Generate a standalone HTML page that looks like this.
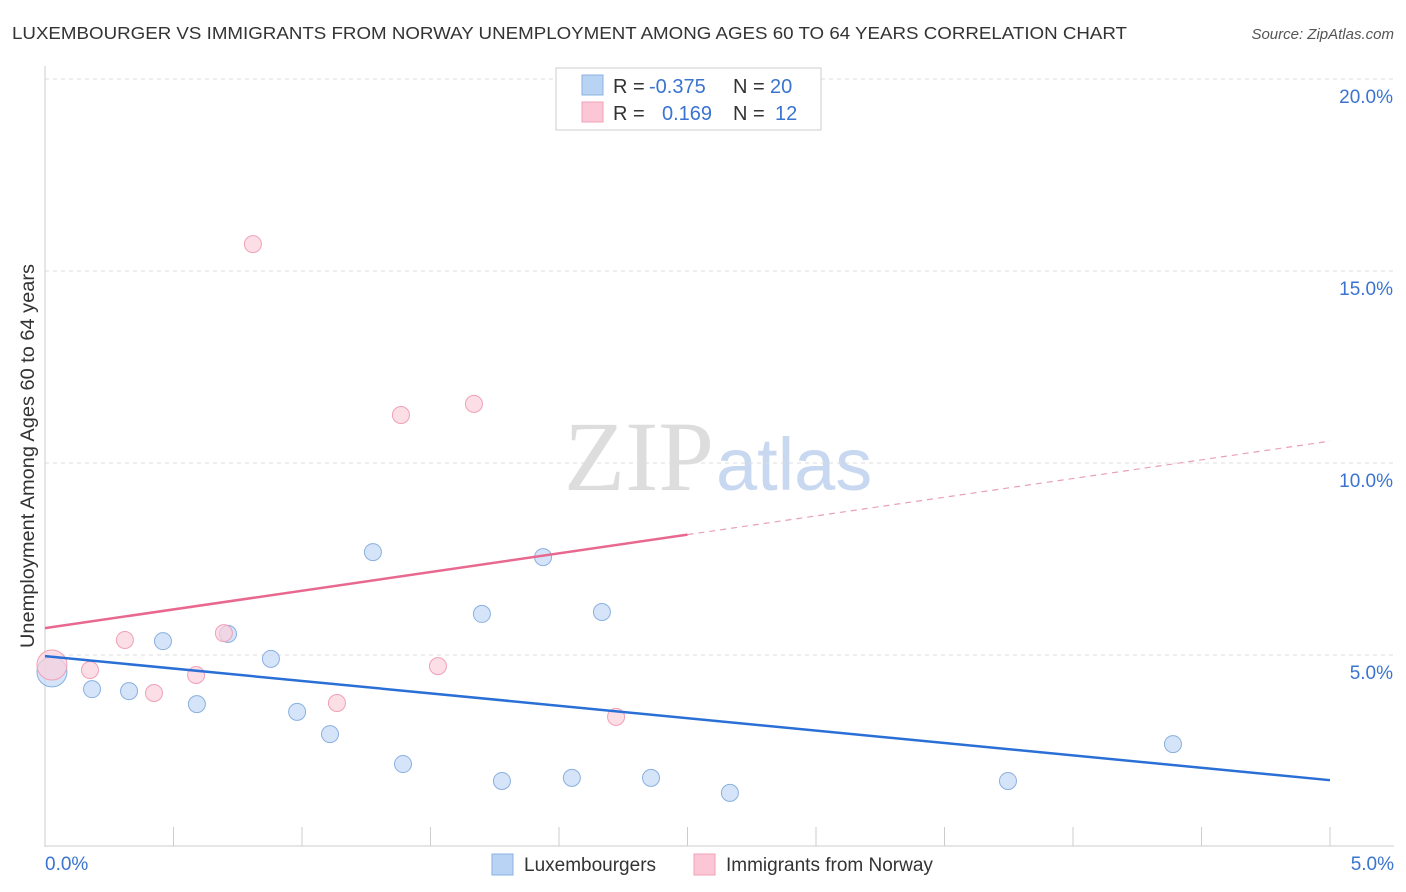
<!DOCTYPE html>
<html><head><meta charset="utf-8"><style>
body{margin:0;background:#fff;font-family:"Liberation Sans",sans-serif;}
svg{display:block}
</style></head><body>
<svg id="chart" width="1406" height="892">
<text x="12" y="39" font-size="17.5" fill="#333" textLength="1115" lengthAdjust="spacingAndGlyphs">LUXEMBOURGER VS IMMIGRANTS FROM NORWAY UNEMPLOYMENT AMONG AGES 60 TO 64 YEARS CORRELATION CHART</text>
<text x="1394" y="39" font-size="15" fill="#555" font-style="italic" text-anchor="end">Source: ZipAtlas.com</text>
<text x="714" y="490" font-size="100" fill="#ddd" text-anchor="end" font-family="Liberation Serif,serif">ZIP</text>
<text x="716" y="490" font-size="74" fill="#c8d8f0">atlas</text>
<text transform="translate(34,456) rotate(-90)" font-size="19" fill="#333" text-anchor="middle" textLength="384" lengthAdjust="spacingAndGlyphs">Unemployment Among Ages 60 to 64 years</text>
<g id="grid"></g><g id="marks"></g>
<g>
<rect x="556" y="68" width="265" height="62" fill="#fff" stroke="#ccc"/>
<rect x="582" y="75" width="21" height="20" fill="#b9d3f5" stroke="#8ab0e0"/>
<rect x="582" y="102" width="21" height="20" fill="#fbc7d6" stroke="#f0a0b8"/>
<text x="613" y="93" font-size="20" fill="#333">R = <tspan x="649" fill="#3a74d0">-0.375</tspan><tspan x="733">N = </tspan><tspan x="770" fill="#3a74d0">20</tspan></text>
<text x="613" y="120" font-size="20" fill="#333">R = <tspan x="662" fill="#3a74d0">0.169</tspan><tspan x="733">N = </tspan><tspan x="775" fill="#3a74d0">12</tspan></text>
</g>
<g>
<rect x="492" y="854" width="21" height="21" fill="#b9d3f5" stroke="#8ab0e0"/>
<text x="524" y="871" font-size="19" fill="#333">Luxembourgers</text>
<rect x="694" y="854" width="21" height="21" fill="#fbc7d6" stroke="#f0a0b8"/>
<text x="726" y="871" font-size="19" fill="#333">Immigrants from Norway</text>
</g>
</svg>
<script>
const blueX=[0.027,0.183,0.327,0.459,0.591,0.712,0.879,0.981,1.109,1.276,1.393,1.70,1.778,1.938,2.05,2.167,2.358,2.665,3.747,4.389];
const blueY=[4.56,4.11,4.06,5.36,3.72,5.55,4.90,3.52,2.94,7.68,2.16,6.07,1.72,7.55,1.80,6.12,1.80,1.41,1.72,2.68];
const pinkX=[0.027,0.175,0.311,0.424,0.588,0.696,0.809,1.136,1.385,1.529,1.669,2.222];
const pinkY=[4.74,4.61,5.39,4.01,4.48,5.57,15.70,3.75,11.25,4.71,11.54,3.39];
const blueLine=[4.97,1.74];
const pinkLine=[5.70,10.57];
const yTicks=[5,10,15,20];
const xTickLabels=["0.0%","5.0%"];
const NS="http://www.w3.org/2000/svg";
const sx=v=>45+v*257, sy=v=>847-v*38.4;
function mk(tag,attrs,parent){const e=document.createElementNS(NS,tag);for(const k in attrs)e.setAttribute(k,attrs[k]);parent.appendChild(e);return e;}
const grid=document.getElementById('grid'), marks=document.getElementById('marks');
yTicks.forEach(t=>{
 let l=mk('line',{x1:45,x2:1394,y1:sy(t),y2:sy(t),stroke:'#ddd','stroke-dasharray':'4,4'},grid);
 
 
 let tx=mk('text',{x:1393,y:sy(t)+24,'font-size':19,fill:'#3a74d0','text-anchor':'end'},grid);
 tx.textContent=t.toFixed(1)+'%';
 
 
});
let ax=mk('line',{x1:45,x2:45,y1:66,y2:847,stroke:'#ccc'},grid);


let bx=mk('line',{x1:45,x2:1394,y1:846,y2:846,stroke:'#ccc'},grid);


for(let i=1;i<=10;i++){let l=mk('line',{x1:sx(i*0.5),x2:sx(i*0.5),y1:827,y2:846,stroke:'#ccc'},grid);
 
 }
[[xTickLabels[0],45,'start'],[xTickLabels[1],1394,'end']].forEach(([s,x,a])=>{
 let t=mk('text',{x:x,y:870,'font-size':19,fill:'#3a74d0','text-anchor':a},grid);t.textContent=s;
 
 });
function dots(X,Y,fill,stroke,name){X.forEach((x,i)=>{const big=i===0;
 let c=mk('circle',{cx:sx(x),cy:sy(Y[i]),r:big?15:8.5,fill:fill,stroke:stroke,'fill-opacity':0.7,'stroke-width':1},marks);
 
 });}
dots(blueX,blueY,'#c3d8f5','#8ab0e0','point-luxembourger');
dots(pinkX,pinkY,'#fbd0dc','#f0a0b8','point-norway');
let bl=mk('line',{x1:sx(0),y1:sy(blueLine[0]),x2:sx(5),y2:sy(blueLine[1]),stroke:'#2a6fd6','stroke-width':2.5},marks);


const pm=pinkLine[0]+(pinkLine[1]-pinkLine[0])*0.5;
let pl=mk('line',{x1:sx(0),y1:sy(pinkLine[0]),x2:sx(2.5),y2:sy(pm),stroke:'#e86890','stroke-width':2.5},marks);


let pd=mk('line',{x1:sx(2.5),y1:sy(pm),x2:sx(5),y2:sy(pinkLine[1]),stroke:'#e8a0b8','stroke-width':1.2,'stroke-dasharray':'6,5'},marks);


</script>
</body></html>
